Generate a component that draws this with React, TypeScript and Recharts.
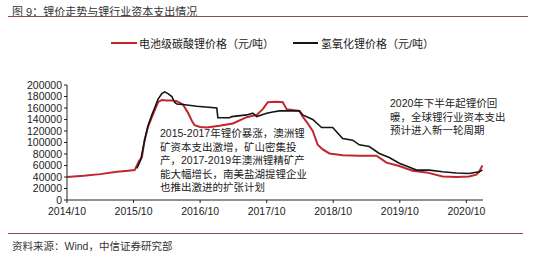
import React from 'react';
import { LineChart, Line, XAxis, YAxis, Legend } from 'recharts';

// months since 2014/10
const carbonateX = [0, 3, 6, 9, 11, 12.2, 13, 13.5, 14, 14.6, 15.3, 15.8, 16.4, 17.1, 18, 19, 19.8, 20.9, 21.8, 22.5, 23, 24, 25.2, 27.5, 29.9, 32.4, 34.2, 35.3, 36.2, 37.8, 38.9, 39.6, 41.9, 42.5, 43.2, 44.3, 45.2, 46.1, 47.3, 49.7, 52.7, 55.8, 57.6, 59.9, 62.3, 64.8, 67.7, 70.2, 72.5, 73.8, 74.3, 74.9];
const carbonateY = [40000, 42000, 45000, 49000, 51000, 52000, 68000, 74000, 105000, 127000, 144000, 156000, 170000, 174000, 173000, 173000, 172000, 166000, 152000, 138000, 130000, 127000, 126000, 129000, 133000, 144000, 148000, 158000, 170000, 171000, 170000, 158000, 155000, 145000, 136000, 120000, 96000, 88000, 81000, 78000, 77000, 77000, 65000, 59000, 51000, 48000, 41000, 40000, 41000, 44000, 49000, 60000];
const hydroxideX = [12.6, 13.3, 14, 14.6, 15.3, 15.8, 16.4, 17.1, 17.6, 18.2, 18.9, 19.4, 19.8, 20.9, 23.4, 27, 27.2, 29.3, 29.7, 32.4, 33.5, 34.2, 36, 37.1, 38.3, 41.9, 42.5, 44.3, 45.9, 47.9, 49.7, 51.5, 52.7, 54.5, 56.3, 58.1, 59.9, 61.2, 63, 65.3, 67.7, 70.2, 72.5, 74.3, 74.9];
const hydroxideY = [55000, 70000, 104000, 129000, 148000, 160000, 175000, 185000, 188000, 185000, 180000, 170000, 167000, 166000, 163000, 160000, 143000, 143000, 145000, 148000, 151000, 145000, 151000, 153000, 155000, 155000, 148000, 140000, 126000, 126000, 107000, 104000, 96000, 93000, 81000, 74000, 64000, 59000, 52000, 52000, 49000, 47000, 46000, 49000, 52000];

const xTicks = [0, 12, 24, 36, 48, 60, 72];
const xTickLabels = ['2014/10', '2015/10', '2016/10', '2017/10', '2018/10', '2019/10', '2020/10'];
const yTicks = [0, 20000, 40000, 60000, 80000, 100000, 120000, 140000, 160000, 180000, 200000];

const carbonateName = '电池级碳酸锂价格（元/吨）';
const hydroxideName = '氢氧化锂价格（元/吨）';
const title = '图 9：锂价走势与锂行业资本支出情况';
const source = '资料来源：Wind，中信证券研究部';
const note1 = ['2015-2017年锂价暴涨，澳洲锂', '矿资本支出激增，矿山密集投', '产，2017-2019年澳洲锂精矿产', '能大幅增长，南美盐湖提锂企业', '也推出激进的扩张计划'];
const note2 = ['2020年下半年起锂价回', '暖，全球锂行业资本支出', '预计进入新一轮周期'];

const carbonateData = carbonateX.map((m, i) => ({ m, v: carbonateY[i] }));
const hydroxideData = hydroxideX.map((m, i) => ({ m, v: hydroxideY[i] }));

const RED = '#c0262e';
const BLACK = '#151515';
const FONT = '"Liberation Sans", Arial, "Noto Sans CJK SC", sans-serif';

const LegendContent = () => (
  <div style={{ position: 'relative', width: 554, height: 20, fontFamily: FONT, fontSize: 11, color: '#222' }}>
    <div style={{ position: 'absolute', left: 111, top: 9, width: 26, height: 2, background: RED }} />
    <div style={{ position: 'absolute', left: 139, top: 2, whiteSpace: 'nowrap' }}>{carbonateName}</div>
    <div style={{ position: 'absolute', left: 293, top: 9, width: 25, height: 2, background: BLACK }} />
    <div style={{ position: 'absolute', left: 321, top: 2, whiteSpace: 'nowrap' }}>{hydroxideName}</div>
  </div>
);

export default function App() {
  return (
    <div style={{ position: 'fixed', left: 0, top: 0, width: 554, height: 253, background: '#fff', fontFamily: FONT, overflow: 'hidden' }}>
      <div style={{ position: 'absolute', left: 12, top: 3, fontSize: 11, color: '#333', whiteSpace: 'nowrap' }}>{title}</div>
      <div style={{ position: 'absolute', left: 8, top: 16, width: 520, height: 1, background: '#8a4b4b' }} />
      <LineChart width={554} height={253} data={carbonateData} margin={{ top: 65, right: 71, bottom: 33, left: 0 }}>
        <Legend verticalAlign="top" content={<LegendContent />} wrapperStyle={{ position: 'absolute', top: 33, left: 0, width: 554 }} />
        <XAxis
          dataKey="m"
          type="number"
          domain={[0, 75]}
          ticks={xTicks}
          tickFormatter={(v: number) => xTickLabels[xTicks.indexOf(v)] ?? ''}
          allowDataOverflow
          height={20}
          stroke="#222"
          tickSize={3}
          tickMargin={5}
          tick={{ fontSize: 10.5, fill: '#222', fontFamily: FONT }}
        />
        <YAxis
          type="number"
          domain={[0, 200000]}
          ticks={yTicks}
          interval={0}
          width={67}
          stroke="#222"
          tickSize={3}
          tick={{ fontSize: 10.5, fill: '#222', fontFamily: FONT }}
        />
        <Line data={carbonateData} dataKey="v" name={carbonateName} stroke={RED} strokeWidth={2} dot={false} isAnimationActive={false} />
        <Line data={hydroxideData} dataKey="v" name={hydroxideName} stroke={BLACK} strokeWidth={1.6} dot={false} isAnimationActive={false} />
      </LineChart>
      <div style={{ position: 'absolute', left: 160, top: 127, fontSize: 10.5, lineHeight: '13.5px', color: '#222', whiteSpace: 'nowrap' }}>
        {note1.map((t) => <div key={t}>{t}</div>)}
      </div>
      <div style={{ position: 'absolute', left: 390, top: 97, fontSize: 10.5, lineHeight: '13.5px', color: '#222', whiteSpace: 'nowrap' }}>
        {note2.map((t) => <div key={t}>{t}</div>)}
      </div>
      <div style={{ position: 'absolute', left: 8, top: 233, width: 515, height: 1, background: '#8a4b4b' }} />
      <div style={{ position: 'absolute', left: 12, top: 238, fontSize: 10.5, color: '#333', whiteSpace: 'nowrap' }}>{source}</div>
    </div>
  );
}
